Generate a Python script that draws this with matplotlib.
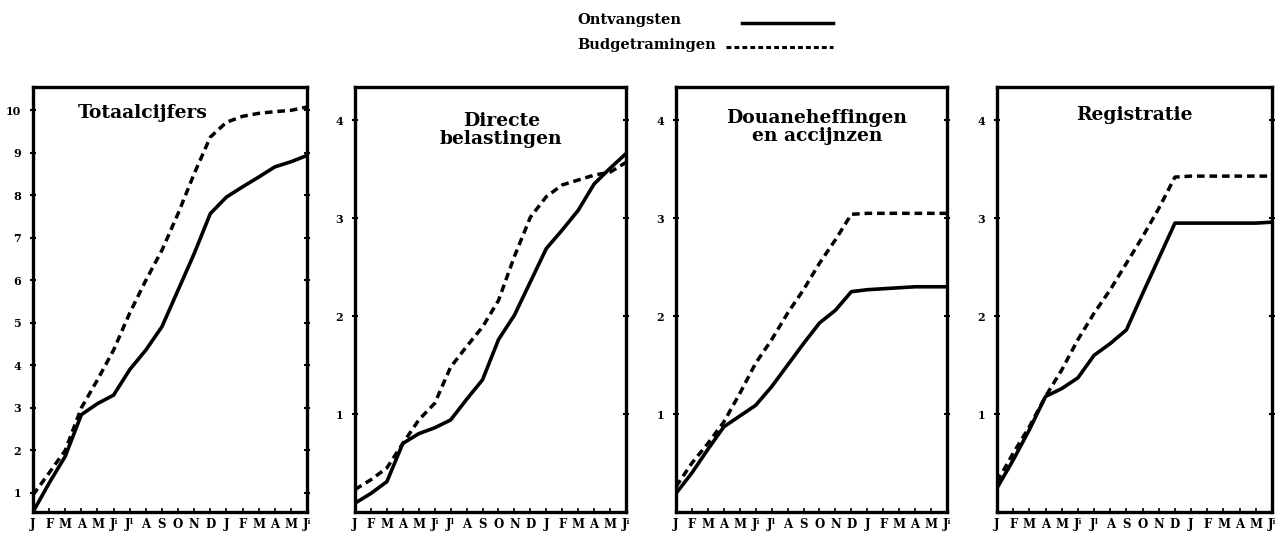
import matplotlib
matplotlib.use("Agg")
import matplotlib.pyplot as plt

plt.rcParams['font.family'] = ['DejaVu Serif', 'DejaVu Sans']

months = ['J', 'F', 'M', 'A', 'M', 'Jⁱ', 'Jˡ', 'A', 'S', 'O', 'N', 'D',
          'J', 'F', 'M', 'A', 'M', 'Jⁱ']

titles = ['Totaalcijfers', 'Directe\nbelastingen',
          'Douaneheffingen\nen accijnzen', 'Registratie']

tot_ontv = [0.55, 1.23, 1.86, 2.84, 3.1, 3.3, 3.9, 4.36, 4.91, 5.77, 6.63,
            7.57, 7.96, 8.2, 8.43, 8.67, 8.79, 8.94]
tot_budg = [0.95, 1.47, 2.0, 3.0, 3.66, 4.36, 5.23, 6.0, 6.71, 7.57, 8.51,
            9.37, 9.72, 9.86, 9.93, 9.97, 10.0, 10.08]

dir_ontv = [0.09, 0.19, 0.31, 0.70, 0.80, 0.86, 0.94, 1.15, 1.35, 1.76, 2.01,
            2.35, 2.69, 2.88, 3.08, 3.35, 3.51, 3.66]
dir_budg = [0.23, 0.33, 0.45, 0.70, 0.94, 1.11, 1.48, 1.69, 1.89, 2.16, 2.61,
            3.01, 3.22, 3.34, 3.39, 3.44, 3.47, 3.57]

dou_ontv = [0.19, 0.40, 0.64, 0.87, 0.98, 1.09, 1.28, 1.50, 1.72, 1.93, 2.06,
            2.25, 2.27, 2.28, 2.29, 2.30, 2.30, 2.30]
dou_budg = [0.26, 0.50, 0.70, 0.92, 1.21, 1.52, 1.76, 2.03, 2.27, 2.54, 2.78,
            3.04, 3.05, 3.05, 3.05, 3.05, 3.05, 3.05]

reg_ontv = [0.245, 0.53, 0.84, 1.18, 1.26, 1.37, 1.60, 1.72, 1.86, 2.23, 2.59,
            2.95, 2.95, 2.95, 2.95, 2.95, 2.95, 2.96]
reg_budg = [0.31, 0.60, 0.87, 1.18, 1.45, 1.76, 2.03, 2.27, 2.54, 2.81, 3.10,
            3.42, 3.43, 3.43, 3.43, 3.43, 3.43, 3.43]

ontvangsten = [tot_ontv, dir_ontv, dou_ontv, reg_ontv]
budget = [tot_budg, dir_budg, dou_budg, reg_budg]

yticks = [list(range(1, 11)), [1, 2, 3, 4], [1, 2, 3, 4], [1, 2, 3, 4]]
ylims = [(0.55, 10.55), (0, 4.34), (0, 4.34), (0, 4.34)]

W, H = 1277, 534
fig = plt.figure(figsize=(W / 100, H / 100), dpi=100)

panels_px = [(33, 307), (355, 626), (676, 947), (997, 1272)]
top_px, bot_px = 87, 512
title_pos = [(0.40, 0.94), (0.54, 0.90), (0.52, 0.905), (0.50, 0.935)]

dash = (0, (2.2, 1.4))
x = list(range(len(months)))

for i, (l, r) in enumerate(panels_px):
    ax = fig.add_axes([l / W, 1 - bot_px / H, (r - l) / W, (bot_px - top_px) / H])
    ax.plot(x, ontvangsten[i], color='black', lw=2.6, solid_joinstyle='round')
    ax.plot(x, budget[i], color='black', lw=2.5, linestyle=dash)
    ax.set_xlim(0, len(months) - 1)
    ax.set_ylim(*ylims[i])
    ax.set_xticks(x)
    ax.set_xticklabels(months, fontsize=8.5, fontweight='bold')
    ax.set_yticks(yticks[i])
    ax.set_yticklabels([str(v) for v in yticks[i]], fontsize=8, fontweight='bold')
    ax.tick_params(axis='x', direction='in', length=3, width=1.2, pad=4)
    ax.tick_params(axis='y', direction='inout', length=5, width=1.5, pad=6,
                   right=True)
    for s in ax.spines.values():
        s.set_linewidth(2.4)
    ax.text(title_pos[i][0], title_pos[i][1], titles[i], transform=ax.transAxes,
            ha='center', va='center', fontsize=13.5, fontweight='bold',
            linespacing=1.0)

# legend
fig.text(577 / W, 1 - 20 / H, 'Ontvangsten', ha='left', va='center',
         fontsize=10.5, fontweight='bold')
fig.text(577 / W, 1 - 45 / H, 'Budgetramingen', ha='left', va='center',
         fontsize=10.5, fontweight='bold')
fig.add_artist(plt.Line2D([742 / W, 833 / W], [1 - 23 / H, 1 - 23 / H],
                          color='black', lw=2.5, transform=fig.transFigure))
fig.add_artist(plt.Line2D([726 / W, 833 / W], [1 - 47 / H, 1 - 47 / H],
                          color='black', lw=2.2, linestyle=(0, (1.6, 1.0)),
                          transform=fig.transFigure))

fig.savefig('out.png', dpi=100, facecolor='white')
